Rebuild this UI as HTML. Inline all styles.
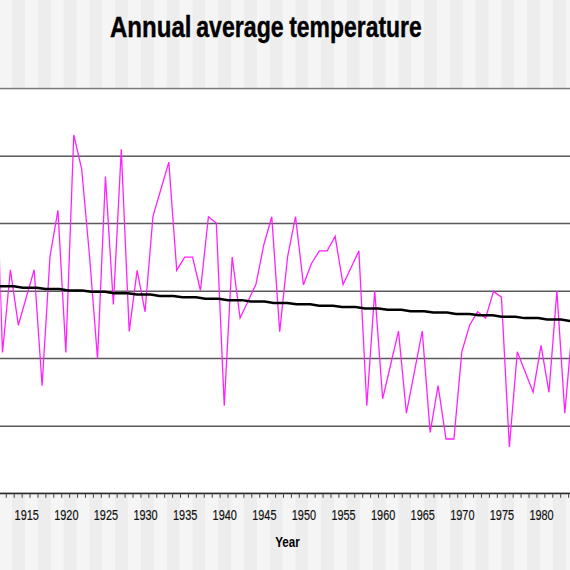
<!DOCTYPE html>
<html><head><meta charset="utf-8">
<style>
html,body{margin:0;padding:0;background:#fff;width:570px;height:570px;overflow:hidden}
svg{display:block}
text{font-family:"Liberation Sans",sans-serif}
</style></head><body>
<svg width="570" height="570" viewBox="0 0 570 570">
<defs><clipPath id="pc"><rect x="0.3" y="0" width="580" height="570"/></clipPath></defs>
<rect x="0" y="0" width="570" height="88" fill="#f5f5f5"/>
<rect x="-13.55" y="0" width="12.75" height="88" fill="#ededed"/><rect x="12.20" y="0" width="12.75" height="88" fill="#ededed"/><rect x="37.95" y="0" width="12.75" height="88" fill="#ededed"/><rect x="63.70" y="0" width="12.75" height="88" fill="#ededed"/><rect x="89.45" y="0" width="12.75" height="88" fill="#ededed"/><rect x="115.20" y="0" width="12.75" height="88" fill="#ededed"/><rect x="140.95" y="0" width="12.75" height="88" fill="#ededed"/><rect x="166.70" y="0" width="12.75" height="88" fill="#ededed"/><rect x="192.45" y="0" width="12.75" height="88" fill="#ededed"/><rect x="218.20" y="0" width="12.75" height="88" fill="#ededed"/><rect x="243.95" y="0" width="12.75" height="88" fill="#ededed"/><rect x="269.70" y="0" width="12.75" height="88" fill="#ededed"/><rect x="295.45" y="0" width="12.75" height="88" fill="#ededed"/><rect x="321.20" y="0" width="12.75" height="88" fill="#ededed"/><rect x="346.95" y="0" width="12.75" height="88" fill="#ededed"/><rect x="372.70" y="0" width="12.75" height="88" fill="#ededed"/><rect x="398.45" y="0" width="12.75" height="88" fill="#ededed"/><rect x="424.20" y="0" width="12.75" height="88" fill="#ededed"/><rect x="449.95" y="0" width="12.75" height="88" fill="#ededed"/><rect x="475.70" y="0" width="12.75" height="88" fill="#ededed"/><rect x="501.45" y="0" width="12.75" height="88" fill="#ededed"/><rect x="527.20" y="0" width="12.75" height="88" fill="#ededed"/><rect x="552.95" y="0" width="12.75" height="88" fill="#ededed"/>
<rect x="0" y="494.5" width="570" height="76" fill="#f5f5f5"/>
<rect x="-13.55" y="494.5" width="12.75" height="76" fill="#ededed"/><rect x="12.20" y="494.5" width="12.75" height="76" fill="#ededed"/><rect x="37.95" y="494.5" width="12.75" height="76" fill="#ededed"/><rect x="63.70" y="494.5" width="12.75" height="76" fill="#ededed"/><rect x="89.45" y="494.5" width="12.75" height="76" fill="#ededed"/><rect x="115.20" y="494.5" width="12.75" height="76" fill="#ededed"/><rect x="140.95" y="494.5" width="12.75" height="76" fill="#ededed"/><rect x="166.70" y="494.5" width="12.75" height="76" fill="#ededed"/><rect x="192.45" y="494.5" width="12.75" height="76" fill="#ededed"/><rect x="218.20" y="494.5" width="12.75" height="76" fill="#ededed"/><rect x="243.95" y="494.5" width="12.75" height="76" fill="#ededed"/><rect x="269.70" y="494.5" width="12.75" height="76" fill="#ededed"/><rect x="295.45" y="494.5" width="12.75" height="76" fill="#ededed"/><rect x="321.20" y="494.5" width="12.75" height="76" fill="#ededed"/><rect x="346.95" y="494.5" width="12.75" height="76" fill="#ededed"/><rect x="372.70" y="494.5" width="12.75" height="76" fill="#ededed"/><rect x="398.45" y="494.5" width="12.75" height="76" fill="#ededed"/><rect x="424.20" y="494.5" width="12.75" height="76" fill="#ededed"/><rect x="449.95" y="494.5" width="12.75" height="76" fill="#ededed"/><rect x="475.70" y="494.5" width="12.75" height="76" fill="#ededed"/><rect x="501.45" y="494.5" width="12.75" height="76" fill="#ededed"/><rect x="527.20" y="494.5" width="12.75" height="76" fill="#ededed"/><rect x="552.95" y="494.5" width="12.75" height="76" fill="#ededed"/>
<g fill="#5a5a5a">
<rect x="0" y="155.45" width="570" height="1.5"/><rect x="0" y="222.75" width="570" height="1.5"/><rect x="0" y="290.50" width="570" height="1.5"/><rect x="0" y="357.75" width="570" height="1.5"/><rect x="0" y="425.50" width="570" height="1.5"/>
<rect x="0" y="87.8" width="570" height="1.3" fill="#7c7c7c"/>
</g>
<rect x="0" y="89.1" width="570" height="1" fill="#d4d4d4"/>
<polyline points="-5.43,115.0 2.49,352.5 10.41,269.8 18.33,325.2 26.25,297.5 34.17,269.8 42.09,385.8 50.01,256.3 57.93,210.3 65.85,352.4 73.77,135.0 81.69,169.1 89.61,257.0 97.53,358.7 105.45,176.5 113.37,304.5 121.29,149.2 129.21,331.4 137.13,270.3 145.05,311.8 152.97,216.4 160.89,189.2 168.81,162.1 176.73,270.4 184.65,257.2 192.57,257.2 200.49,290.5 208.41,216.7 216.33,223.0 224.25,405.6 232.17,257.0 240.09,318.0 248.01,301.2 255.93,284.4 263.85,244.7 271.77,216.7 279.69,331.6 287.61,256.7 295.53,216.7 303.45,284.8 311.37,263.7 319.29,250.9 327.21,250.9 335.13,236.3 343.05,284.6 350.97,267.7 358.89,250.9 366.81,405.8 374.73,290.7 382.65,398.8 390.57,365.0 398.49,331.1 406.41,413.2 414.33,372.2 422.25,331.0 430.17,432.4 438.09,385.6 446.01,439.0 453.93,439.0 461.85,351.6 469.77,324.7 477.69,311.8 485.61,318.2 493.53,291.4 501.45,297.2 509.37,447.0 517.29,351.8 525.21,372.0 533.13,392.2 541.05,345.3 548.97,392.3 556.89,290.9 564.81,413.1 572.73,322.0" fill="none" stroke="#ff22ff" stroke-width="1.3" clip-path="url(#pc)" stroke-linejoin="miter"/>
<polyline points="0.0,286.29 13.8,286.29 22.8,287.68 36.6,287.68 45.6,289.06 59.4,289.06 68.4,290.44 82.2,290.44 91.2,291.83 105.0,291.83 114.0,293.21 127.8,293.21 136.8,294.60 150.6,294.60 159.6,295.98 173.4,295.98 182.4,297.36 196.2,297.36 205.2,298.75 219.0,298.75 228.0,300.13 241.8,300.13 250.8,301.52 264.6,301.52 273.6,302.90 287.4,302.90 296.4,304.28 310.2,304.28 319.2,305.67 333.0,305.67 342.0,307.05 355.8,307.05 364.8,308.44 378.6,308.44 387.6,309.82 401.4,309.82 410.4,311.20 424.2,311.20 433.2,312.59 447.0,312.59 456.0,313.97 469.8,313.97 478.8,315.36 492.6,315.36 501.6,316.74 515.4,316.74 524.4,318.12 538.2,318.12 547.2,319.51 561.0,319.51 570.0,320.89 583.8,320.89 592.8,322.28 606.6,322.28 615.6,323.66 629.4,323.66" fill="none" stroke="#000" stroke-width="2.5"/>
<rect x="0" y="492.6" width="570" height="1.7" fill="#2a2a2a"/>
<rect x="-2.14" y="493.5" width="1" height="4.3" fill="#444"/><rect x="5.78" y="493.5" width="1" height="4.3" fill="#444"/><rect x="13.70" y="493.5" width="1" height="4.3" fill="#444"/><rect x="21.62" y="493.5" width="1" height="4.3" fill="#444"/><rect x="29.54" y="493.5" width="1" height="4.3" fill="#444"/><rect x="37.46" y="493.5" width="1" height="4.3" fill="#444"/><rect x="45.38" y="493.5" width="1" height="4.3" fill="#444"/><rect x="53.30" y="493.5" width="1" height="4.3" fill="#444"/><rect x="61.22" y="493.5" width="1" height="4.3" fill="#444"/><rect x="69.14" y="493.5" width="1" height="4.3" fill="#444"/><rect x="77.06" y="493.5" width="1" height="4.3" fill="#444"/><rect x="84.98" y="493.5" width="1" height="4.3" fill="#444"/><rect x="92.90" y="493.5" width="1" height="4.3" fill="#444"/><rect x="100.82" y="493.5" width="1" height="4.3" fill="#444"/><rect x="108.74" y="493.5" width="1" height="4.3" fill="#444"/><rect x="116.66" y="493.5" width="1" height="4.3" fill="#444"/><rect x="124.58" y="493.5" width="1" height="4.3" fill="#444"/><rect x="132.50" y="493.5" width="1" height="4.3" fill="#444"/><rect x="140.42" y="493.5" width="1" height="4.3" fill="#444"/><rect x="148.34" y="493.5" width="1" height="4.3" fill="#444"/><rect x="156.26" y="493.5" width="1" height="4.3" fill="#444"/><rect x="164.18" y="493.5" width="1" height="4.3" fill="#444"/><rect x="172.10" y="493.5" width="1" height="4.3" fill="#444"/><rect x="180.02" y="493.5" width="1" height="4.3" fill="#444"/><rect x="187.94" y="493.5" width="1" height="4.3" fill="#444"/><rect x="195.86" y="493.5" width="1" height="4.3" fill="#444"/><rect x="203.78" y="493.5" width="1" height="4.3" fill="#444"/><rect x="211.70" y="493.5" width="1" height="4.3" fill="#444"/><rect x="219.62" y="493.5" width="1" height="4.3" fill="#444"/><rect x="227.54" y="493.5" width="1" height="4.3" fill="#444"/><rect x="235.46" y="493.5" width="1" height="4.3" fill="#444"/><rect x="243.38" y="493.5" width="1" height="4.3" fill="#444"/><rect x="251.30" y="493.5" width="1" height="4.3" fill="#444"/><rect x="259.22" y="493.5" width="1" height="4.3" fill="#444"/><rect x="267.14" y="493.5" width="1" height="4.3" fill="#444"/><rect x="275.06" y="493.5" width="1" height="4.3" fill="#444"/><rect x="282.98" y="493.5" width="1" height="4.3" fill="#444"/><rect x="290.90" y="493.5" width="1" height="4.3" fill="#444"/><rect x="298.82" y="493.5" width="1" height="4.3" fill="#444"/><rect x="306.74" y="493.5" width="1" height="4.3" fill="#444"/><rect x="314.66" y="493.5" width="1" height="4.3" fill="#444"/><rect x="322.58" y="493.5" width="1" height="4.3" fill="#444"/><rect x="330.50" y="493.5" width="1" height="4.3" fill="#444"/><rect x="338.42" y="493.5" width="1" height="4.3" fill="#444"/><rect x="346.34" y="493.5" width="1" height="4.3" fill="#444"/><rect x="354.26" y="493.5" width="1" height="4.3" fill="#444"/><rect x="362.18" y="493.5" width="1" height="4.3" fill="#444"/><rect x="370.10" y="493.5" width="1" height="4.3" fill="#444"/><rect x="378.02" y="493.5" width="1" height="4.3" fill="#444"/><rect x="385.94" y="493.5" width="1" height="4.3" fill="#444"/><rect x="393.86" y="493.5" width="1" height="4.3" fill="#444"/><rect x="401.78" y="493.5" width="1" height="4.3" fill="#444"/><rect x="409.70" y="493.5" width="1" height="4.3" fill="#444"/><rect x="417.62" y="493.5" width="1" height="4.3" fill="#444"/><rect x="425.54" y="493.5" width="1" height="4.3" fill="#444"/><rect x="433.46" y="493.5" width="1" height="4.3" fill="#444"/><rect x="441.38" y="493.5" width="1" height="4.3" fill="#444"/><rect x="449.30" y="493.5" width="1" height="4.3" fill="#444"/><rect x="457.22" y="493.5" width="1" height="4.3" fill="#444"/><rect x="465.14" y="493.5" width="1" height="4.3" fill="#444"/><rect x="473.06" y="493.5" width="1" height="4.3" fill="#444"/><rect x="480.98" y="493.5" width="1" height="4.3" fill="#444"/><rect x="488.90" y="493.5" width="1" height="4.3" fill="#444"/><rect x="496.82" y="493.5" width="1" height="4.3" fill="#444"/><rect x="504.74" y="493.5" width="1" height="4.3" fill="#444"/><rect x="512.66" y="493.5" width="1" height="4.3" fill="#444"/><rect x="520.58" y="493.5" width="1" height="4.3" fill="#444"/><rect x="528.50" y="493.5" width="1" height="4.3" fill="#444"/><rect x="536.42" y="493.5" width="1" height="4.3" fill="#444"/><rect x="544.34" y="493.5" width="1" height="4.3" fill="#444"/><rect x="552.26" y="493.5" width="1" height="4.3" fill="#444"/><rect x="560.18" y="493.5" width="1" height="4.3" fill="#444"/><rect x="568.10" y="493.5" width="1" height="4.3" fill="#444"/><rect x="576.02" y="493.5" width="1" height="4.3" fill="#444"/>
<g font-size="14.5" fill="#111" stroke="#111" stroke-width="0.2">
<text x="-12.85" y="520" text-anchor="middle" textLength="24.3" lengthAdjust="spacingAndGlyphs">1910</text><text x="26.75" y="520" text-anchor="middle" textLength="24.3" lengthAdjust="spacingAndGlyphs">1915</text><text x="66.35" y="520" text-anchor="middle" textLength="24.3" lengthAdjust="spacingAndGlyphs">1920</text><text x="105.95" y="520" text-anchor="middle" textLength="24.3" lengthAdjust="spacingAndGlyphs">1925</text><text x="145.55" y="520" text-anchor="middle" textLength="24.3" lengthAdjust="spacingAndGlyphs">1930</text><text x="185.15" y="520" text-anchor="middle" textLength="24.3" lengthAdjust="spacingAndGlyphs">1935</text><text x="224.75" y="520" text-anchor="middle" textLength="24.3" lengthAdjust="spacingAndGlyphs">1940</text><text x="264.35" y="520" text-anchor="middle" textLength="24.3" lengthAdjust="spacingAndGlyphs">1945</text><text x="303.95" y="520" text-anchor="middle" textLength="24.3" lengthAdjust="spacingAndGlyphs">1950</text><text x="343.55" y="520" text-anchor="middle" textLength="24.3" lengthAdjust="spacingAndGlyphs">1955</text><text x="383.15" y="520" text-anchor="middle" textLength="24.3" lengthAdjust="spacingAndGlyphs">1960</text><text x="422.75" y="520" text-anchor="middle" textLength="24.3" lengthAdjust="spacingAndGlyphs">1965</text><text x="462.35" y="520" text-anchor="middle" textLength="24.3" lengthAdjust="spacingAndGlyphs">1970</text><text x="501.95" y="520" text-anchor="middle" textLength="24.3" lengthAdjust="spacingAndGlyphs">1975</text><text x="541.55" y="520" text-anchor="middle" textLength="24.3" lengthAdjust="spacingAndGlyphs">1980</text><text x="582.15" y="520" text-anchor="middle" textLength="24.3" lengthAdjust="spacingAndGlyphs">1985</text>
</g>
<g font-size="29" font-weight="bold" fill="#000" stroke="#000" stroke-width="0.4">
<text x="110" y="36.6" textLength="81.5" lengthAdjust="spacingAndGlyphs">Annual</text>
<text x="196.2" y="36.6" textLength="87.5" lengthAdjust="spacingAndGlyphs">average</text>
<text x="289.2" y="36.6" textLength="132.5" lengthAdjust="spacingAndGlyphs">temperature</text>
</g>
<text x="275.2" y="547.2" font-size="14.4" font-weight="bold" fill="#000" textLength="24.6" lengthAdjust="spacingAndGlyphs">Year</text>
</svg>
</body></html>
